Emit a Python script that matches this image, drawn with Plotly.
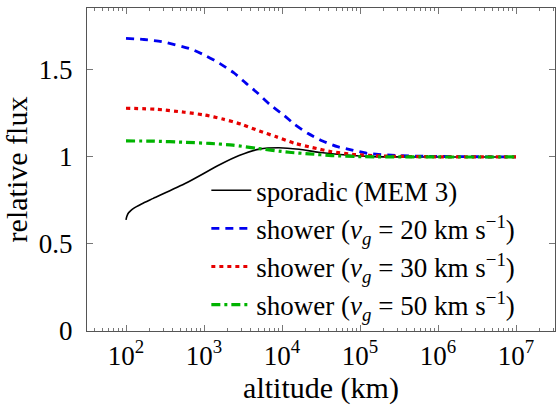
import plotly.graph_objects as go

# altitude (km) and relative flux values
alt_sporadic = [100, 101.5, 104, 108, 115, 125, 158, 224, 589, 1585, 2818, 5130, 9120, 16600, 29500, 66100, 141000, 1e6, 1e7]
flux_sporadic = [0.638, 0.652, 0.666, 0.679, 0.692, 0.705, 0.73, 0.762, 0.85, 0.955, 1.008, 1.045, 1.053, 1.044, 1.027, 1.011, 1.002, 1.0, 1.0]

alt_20 = [100, 170, 285, 692, 1072, 1585, 2455, 3467, 4898, 6918, 10230, 14450, 21380, 33110, 51290, 79430, 123000, 3e5, 1e6, 1e7]
flux_20 = [1.682, 1.675, 1.663, 1.619, 1.58, 1.538, 1.481, 1.423, 1.366, 1.303, 1.245, 1.188, 1.136, 1.092, 1.059, 1.04, 1.021, 1.008, 1.003, 1.0]

alt_30 = [100, 245, 562, 1023, 1738, 3020, 5129, 8318, 14450, 24550, 43650, 79430, 2e5, 1e6, 1e7]
flux_30 = [1.28, 1.274, 1.257, 1.241, 1.218, 1.188, 1.149, 1.117, 1.079, 1.054, 1.03, 1.015, 1.005, 1.001, 1.0]

alt_50 = [100, 224, 589, 1175, 2344, 4677, 12300, 22390, 43650, 95500, 1e6, 1e7]
flux_50 = [1.092, 1.091, 1.084, 1.078, 1.068, 1.05, 1.027, 1.018, 1.008, 1.002, 1.0, 1.0]

names = ["sporadic (MEM 3)",
         "shower (<i>v</i><sub><i>g</i></sub> = 20 km s<sup>−1</sup>)",
         "shower (<i>v</i><sub><i>g</i></sub> = 30 km s<sup>−1</sup>)",
         "shower (<i>v</i><sub><i>g</i></sub> = 50 km s<sup>−1</sup>)"]

x_tickvals = [1e2, 1e3, 1e4, 1e5, 1e6, 1e7]
x_ticktext = ["10<sup>2</sup>", "10<sup>3</sup>", "10<sup>4</sup>", "10<sup>5</sup>", "10<sup>6</sup>", "10<sup>7</sup>"]
y_tickvals = [0, 0.5, 1, 1.5]
y_ticktext = ["0", "0.5", "1", "1.5"]

minor_vals = [m * 10 ** k for k in range(1, 8) for m in range(2, 10)]

FONT = "Liberation Serif"
SIZE = 27
F = dict(family=FONT, size=SIZE, color="black")
FT = dict(family=FONT, size=30, color="black")
fig = go.Figure()
fig.add_trace(go.Scatter(x=alt_sporadic, y=flux_sporadic, mode="lines", name=names[0],
                         line=dict(color="black", width=1.6, shape="spline", smoothing=0.6), legendgroup="a"))
fig.add_trace(go.Scatter(x=alt_20, y=flux_20, mode="lines", name=names[1],
                         line=dict(color="#0000f0", width=2.8, dash="8px,6px", shape="spline", smoothing=0.6), legendgroup="b"))
fig.add_trace(go.Scatter(x=alt_30, y=flux_30, mode="lines", name=names[2],
                         line=dict(color="#e60000", width=3.2, dash="4px,4px", shape="spline", smoothing=0.6), legendgroup="c"))
fig.add_trace(go.Scatter(x=alt_50, y=flux_50, mode="lines", name=names[3],
                         line=dict(color="#00b300", width=3.2, dash="9px,4px,3px,4px", shape="spline", smoothing=0.6), legendgroup="d"))

fig.update_layout(
    width=557, height=406,
    margin=dict(l=87, r=2, t=8, b=75),
    paper_bgcolor="white", plot_bgcolor="white",
    font=F,
    showlegend=True,
    legend=dict(x=0.255, y=0.51, xanchor="left", yanchor="top", bgcolor="rgba(255,255,255,0)",
                borderwidth=0, font=F, tracegroupgap=0, itemwidth=40),
    xaxis=dict(type="log", range=[1.5, 7.5], tickmode="array", tickvals=x_tickvals, ticktext=x_ticktext,
               tickfont=F,
               ticks="inside", ticklen=6, tickcolor="#777", tickwidth=1,
               showline=True, linecolor="#555", linewidth=1.2, mirror="allticks",
               showgrid=False, zeroline=False,
               minor=dict(ticks="inside", ticklen=3, tickvals=minor_vals, tickcolor="#777", showgrid=False),
               title=dict(text="altitude (km)", standoff=4, font=FT)),
    yaxis=dict(range=[0, 1.856], tickmode="array", tickvals=y_tickvals, ticktext=y_ticktext,
               tickfont=F, ticklabelstandoff=8,
               ticks="inside", ticklen=6, tickcolor="#777", tickwidth=1,
               showline=True, linecolor="#555", linewidth=1.2, mirror="allticks",
               showgrid=False, zeroline=False,
               title=dict(text="relative flux", standoff=6, font=FT)),
)

fig.write_html("out.html")
